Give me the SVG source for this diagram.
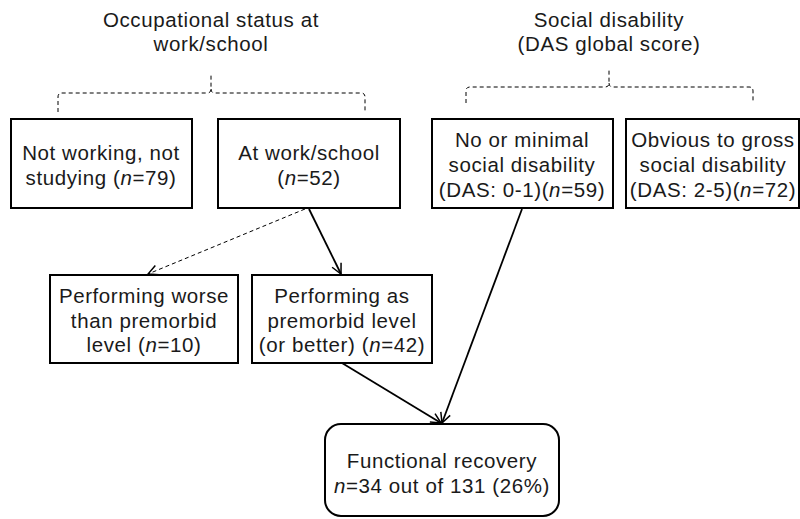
<svg xmlns="http://www.w3.org/2000/svg" width="800" height="519" viewBox="0 0 800 519">
<defs>
<marker id="arr" viewBox="0 0 12 12" refX="11" refY="6" markerWidth="12" markerHeight="12" markerUnits="userSpaceOnUse" orient="auto">
<path d="M1,1 L11,6 L1,11" fill="none" stroke="#000" stroke-width="1.5"/>
</marker>
<style>
text{font-family:"Liberation Sans",Arial,sans-serif;font-size:20.5px;letter-spacing:0.6px;fill:#1a1a1a;text-anchor:middle}
.i{font-style:italic}
.box{fill:#fff;stroke:#000;stroke-width:2}
.dash{fill:none;stroke:#000;stroke-width:1;stroke-dasharray:4 3}
.solid{fill:none;stroke:#000;stroke-width:1.8}
</style>
</defs>
<rect width="800" height="519" fill="#fff"/>
<g id="title1"><text x="211" y="27">Occupational status at</text><text x="211" y="51">work/school</text></g>
<g id="title2"><text x="609" y="27">Social disability</text><text x="609" y="51">(DAS global score)</text></g>
<g id="connectors">
<path class="dash" d="M58,112 V97 Q58,93 62,93 H207 Q211,93 211,89 V75 M211,89 Q211,93 215,93 H361 Q365,93 365,97 V112"/>
<path class="dash" d="M466,103 V91 Q466,87 470,87 H605 Q609,87 609,83 V68 M609,83 Q609,87 613,87 H749 Q753,87 753,91 V103"/>
<line class="dash" x1="305" y1="209" x2="148" y2="274" marker-end="url(#arr)"/>
<line class="solid" x1="309" y1="209" x2="341" y2="274" marker-end="url(#arr)"/>
<line class="solid" x1="342" y1="363" x2="441" y2="423" marker-end="url(#arr)"/>
<line class="solid" x1="522" y1="209" x2="442" y2="423" marker-end="url(#arr)"/>
</g>
<g id="n1"><rect class="box" x="11" y="119" width="181" height="89"/><text x="101" y="160">Not working, not</text><text x="101" y="185">studying (<tspan class="i">n</tspan>=79)</text></g>
<g id="n2"><rect class="box" x="218" y="119" width="182" height="89"/><text x="309" y="160">At work/school</text><text x="309" y="185">(<tspan class="i">n</tspan>=52)</text></g>
<g id="n3"><rect class="box" x="432" y="119" width="181" height="89"/><text x="522" y="147">No or minimal</text><text x="522" y="172">social disability</text><text x="522" y="197">(DAS: 0-1)(<tspan class="i">n</tspan>=59)</text></g>
<g id="n4"><rect class="box" x="626" y="119" width="173" height="89"/><text x="713" y="147">Obvious to gross</text><text x="713" y="172">social disability</text><text x="713" y="197">(DAS: 2-5)(<tspan class="i">n</tspan>=72)</text></g>
<g id="n5"><rect class="box" x="50" y="275" width="188" height="88"/><text x="144" y="303">Performing worse</text><text x="144" y="328">than premorbid</text><text x="144" y="352">level (<tspan class="i">n</tspan>=10)</text></g>
<g id="n6"><rect class="box" x="252" y="275" width="180" height="88"/><text x="342" y="303">Performing as</text><text x="342" y="328">premorbid level</text><text x="342" y="352">(or better) (<tspan class="i">n</tspan>=42)</text></g>
<g id="n7"><rect class="box" x="325" y="424" width="234" height="92" rx="16"/><text x="442" y="468">Functional recovery</text><text x="442" y="493"><tspan class="i">n</tspan>=34 out of 131 (26%)</text></g>
</svg>
